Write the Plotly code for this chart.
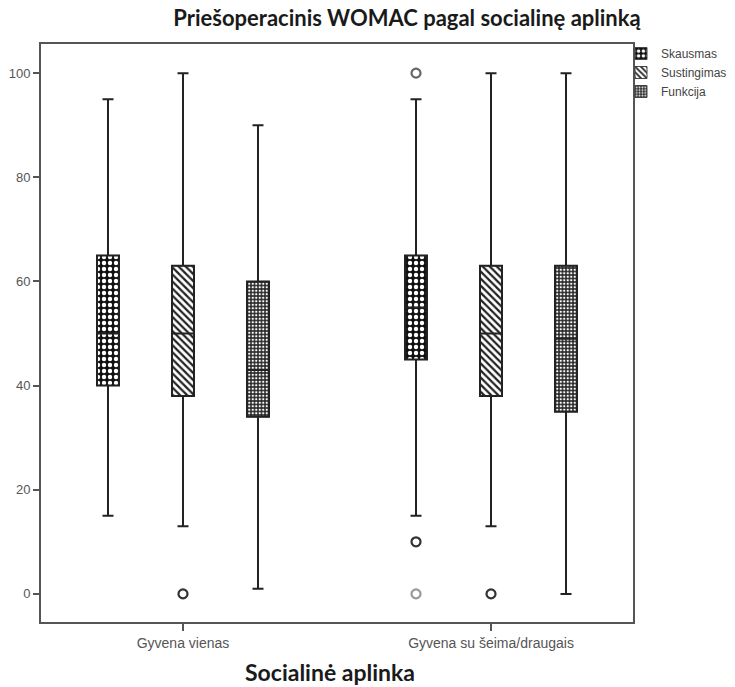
import plotly.graph_objects as go

# ---- data ----
categories = ["Gyvena vienas", "Gyvena su šeima/draugais"]
series = ["Skausmas", "Sustingimas", "Funkcija"]

q1 = {"Skausmas": [40, 45], "Sustingimas": [38, 38], "Funkcija": [34, 35]}
median = {"Skausmas": [50, 55], "Sustingimas": [50, 50], "Funkcija": [43, 49]}
q3 = {"Skausmas": [65, 65], "Sustingimas": [63, 63], "Funkcija": [60, 63]}
lower = {"Skausmas": [15, 15], "Sustingimas": [13, 13], "Funkcija": [1, 0]}
upper = {"Skausmas": [95, 95], "Sustingimas": [100, 100], "Funkcija": [90, 100]}

# outliers: (category index, value)
outliers = {
    "Skausmas": [(1, 100), (1, 10), (1, 0)],
    "Sustingimas": [(0, 0), (1, 0)],
    "Funkcija": [],
}
outlier_colors = {
    "Skausmas": ["#666666", "#333333", "#999999"],
    "Sustingimas": ["#333333", "#333333"],
    "Funkcija": [],
}

# ---- style ----
spacing = 0.2435      # distance between boxes within a group (category units)
box_w = 0.0714        # box width (category units)
offsets = {"Skausmas": -spacing, "Sustingimas": 0.0, "Funkcija": spacing}
patterns = {
    "Skausmas": dict(shape=".", bgcolor="#111111", fgcolor="white", size=6, solidity=0.42, fillmode="replace"),
    "Sustingimas": dict(shape="\\", bgcolor="white", fgcolor="#222222", size=5, solidity=0.45, fillmode="replace"),
    "Funkcija": dict(shape=".", bgcolor="#2a2a2a", fgcolor="white", size=3.5, solidity=0.35, fillmode="replace"),
}

cat_pos = list(range(len(categories)))
fig = go.Figure()

# patterned box bodies (bars from q1 to q3)
for s in series:
    xs = [c + offsets[s] for c in cat_pos]
    fig.add_trace(go.Bar(
        x=xs, y=[b - a for a, b in zip(q1[s], q3[s])], base=q1[s], width=box_w,
        name=s, marker=dict(color="white", pattern=patterns[s],
                            line=dict(color="#444444", width=1)),
        showlegend=True, hoverinfo="skip",
    ))

# whiskers / median / outlines
for s in series:
    xs = [c + offsets[s] for c in cat_pos]
    fig.add_trace(go.Box(
        x=xs, q1=q1[s], median=median[s], q3=q3[s],
        lowerfence=lower[s], upperfence=upper[s], width=box_w,
        fillcolor="rgba(0,0,0,0)", line=dict(color="#222222", width=2),
        whiskerwidth=0.5, showlegend=False, name=s,
    ))

# outliers
for s in series:
    if not outliers[s]:
        continue
    fig.add_trace(go.Scatter(
        x=[c + offsets[s] for c, v in outliers[s]],
        y=[v for c, v in outliers[s]],
        mode="markers", showlegend=False,
        marker=dict(symbol="circle-open", size=9, color=outlier_colors[s],
                    line=dict(width=2.2, color=outlier_colors[s])),
    ))

x_tick_font = dict(family="Liberation Sans, Arial", size=14, color="#555555")
y_tick_font = dict(family="Liberation Sans, Arial", size=13, color="#555555")
fig.update_layout(
    width=735, height=687,
    margin=dict(l=41, r=102, t=44, b=65, autoexpand=False),
    paper_bgcolor="white", plot_bgcolor="white",
    barmode="overlay",
    title=dict(text="<b>Priešoperacinis WOMAC pagal socialinę aplinką</b>",
               x=407 / 735, xref="container", xanchor="center",
               y=1 - 18 / 687, yref="container", yanchor="middle",
               font=dict(family="Lato, Open Sans", size=22, color="#1a1a1a")),
    legend=dict(x=(621 - 41) / 592, xanchor="left", y=1.0 + 5 / 578, yanchor="top",
                font=dict(family="Liberation Sans, Arial", size=12, color="#444444"),
                bgcolor="rgba(0,0,0,0)", tracegroupgap=0),
    xaxis=dict(range=[-0.461, 1.461], tickvals=cat_pos, ticktext=categories,
               showgrid=False, zeroline=False, showline=True, mirror=True,
               linecolor="#555555", linewidth=2, ticks="outside", ticklen=7,
               tickcolor="#555555", tickwidth=1.5, tickfont=x_tick_font),
    yaxis=dict(range=[-5.4, 105.6], tickvals=[0, 20, 40, 60, 80, 100],
               showgrid=False, zeroline=False, showline=True, mirror=True,
               linecolor="#555555", linewidth=2, ticks="outside", ticklen=6,
               tickcolor="#555555", tickwidth=1.5, tickfont=y_tick_font),
    annotations=[dict(text="<b>Socialinė aplinka</b>", xref="paper", yref="paper",
                      x=(330 - 41) / 592, y=(622 - 672) / 578,
                      xanchor="center", yanchor="middle", showarrow=False,
                      font=dict(family="Lato, Open Sans", size=23, color="#1a1a1a"))],
)

fig.write_html("out.html")
